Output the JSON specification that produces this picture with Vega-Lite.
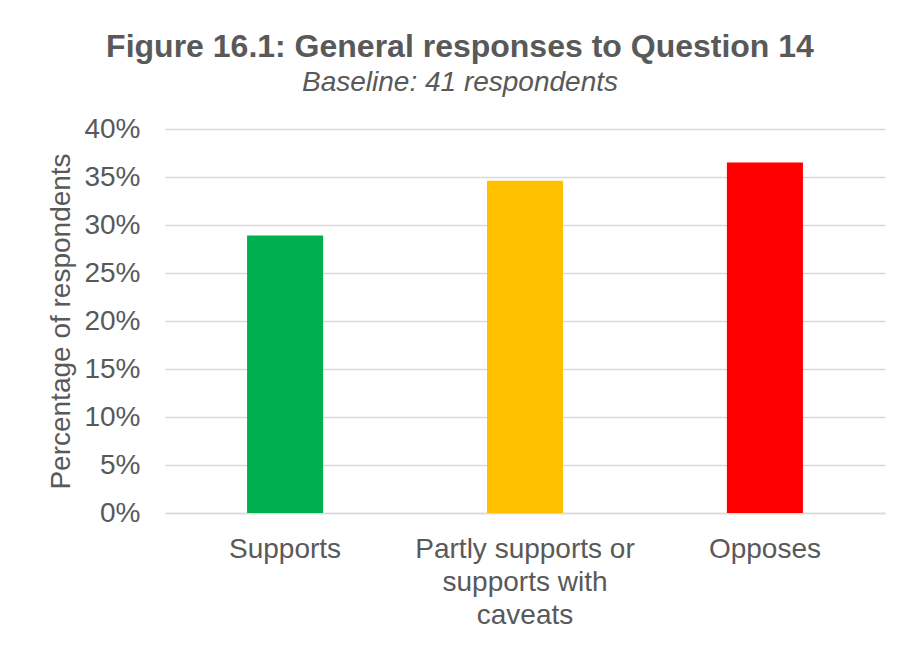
{
  "$schema": "https://vega.github.io/schema/vega-lite/v6.json",
  "width": 720,
  "height": 384,
  "autosize": {"type": "none"},
  "padding": {"left": 165, "top": 129, "right": 17, "bottom": 132},
  "background": "white",
  "title": {
    "text": "Figure 16.1: General responses to Question 14",
    "subtitle": "Baseline: 41 respondents",
    "anchor": "middle",
    "frame": "group",
    "dx": -65,
    "offset": 17,
    "font": "Liberation Sans",
    "fontSize": 32,
    "fontWeight": "bold",
    "color": "#595959",
    "subtitleFont": "Liberation Sans",
    "subtitleFontSize": 28,
    "subtitleFontStyle": "italic",
    "subtitleColor": "#595959",
    "subtitlePadding": 5
  },
  "data": {
    "values": [
      {"response": "Supports", "pct": 0.289},
      {"response": "Partly supports or supports with caveats", "pct": 0.346},
      {"response": "Opposes", "pct": 0.365}
    ]
  },
  "mark": {"type": "bar"},
  "encoding": {
    "x": {
      "field": "response",
      "type": "nominal",
      "sort": null,
      "scale": {"paddingInner": 0.683, "paddingOuter": 0.342},
      "axis": {
        "title": null,
        "labelAngle": 0,
        "labelFont": "Liberation Sans",
        "labelFontSize": 28,
        "labelColor": "#595959",
        "labelPadding": 22,
        "labelLineHeight": 33,
        "labelBaseline": "top",
        "labelLimit": 500,
        "ticks": false,
        "domainColor": "#D9D9D9",
        "domainWidth": 1.5,
        "labelExpr": "datum.label == 'Partly supports or supports with caveats' ? ['Partly supports or', 'supports with', 'caveats'] : datum.label"
      }
    },
    "y": {
      "field": "pct",
      "type": "quantitative",
      "scale": {"domain": [0, 0.4]},
      "axis": {
        "title": "Percentage of respondents",
        "titleFont": "Liberation Sans",
        "titleFontSize": 28,
        "titleFontWeight": "normal",
        "titleColor": "#595959",
        "titlePadding": 8,
        "format": ".0%",
        "values": [0, 0.05, 0.1, 0.15, 0.2, 0.25, 0.3, 0.35, 0.4],
        "labelFont": "Liberation Sans",
        "labelFontSize": 28,
        "labelColor": "#595959",
        "labelPadding": 25,
        "ticks": false,
        "domain": false,
        "grid": true,
        "gridColor": "#D9D9D9",
        "gridWidth": 1.5
      }
    },
    "color": {
      "field": "response",
      "type": "nominal",
      "scale": {
        "domain": ["Supports", "Partly supports or supports with caveats", "Opposes"],
        "range": ["#00B050", "#FFC000", "#FF0000"]
      },
      "legend": null
    }
  },
  "config": {"view": {"stroke": null}}
}
